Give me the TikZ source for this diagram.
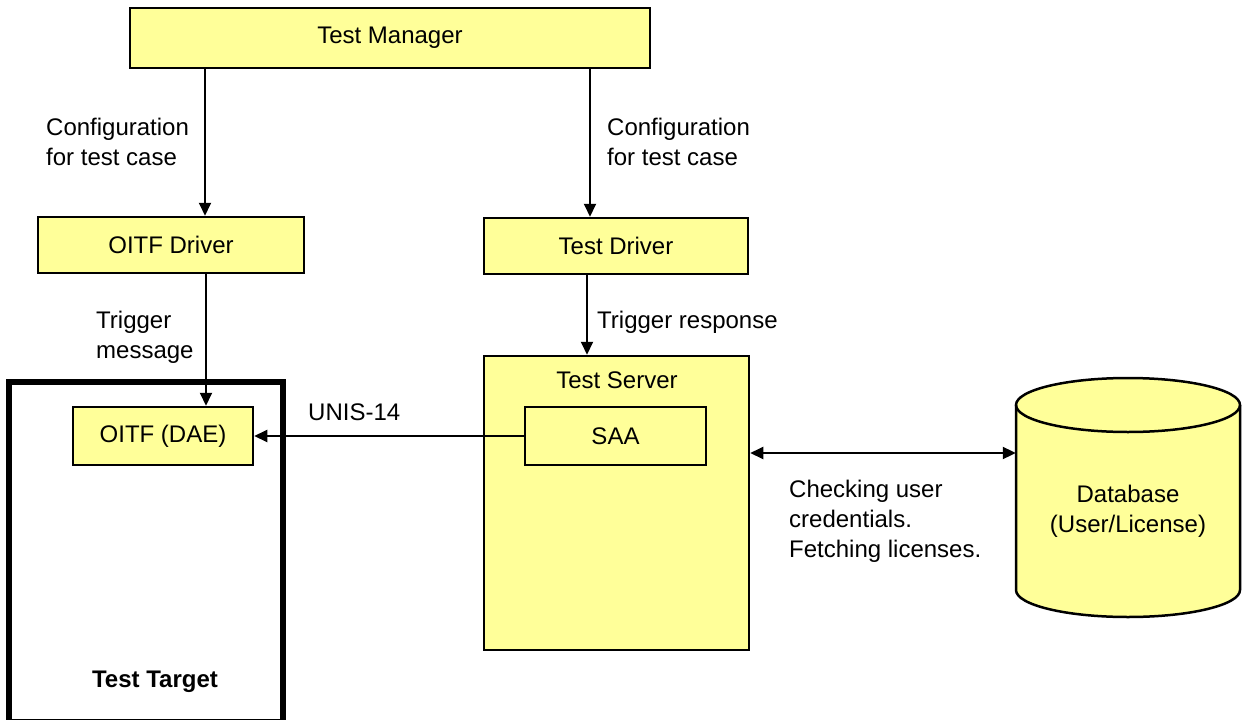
\documentclass[tikz,border=0pt]{standalone}
\usepackage{fontspec}
\setmainfont{Liberation Sans}
\usetikzlibrary{arrows.meta}
\definecolor{boxfill}{RGB}{255,255,153}
\tikzset{
  block/.style={draw=black, line width=2.5pt, fill=boxfill, inner sep=0pt},
  txt/.style={inner sep=0pt, align=left, font=\fontsize{24}{30}\selectfont},
  link/.style={line width=2pt, -{Triangle[length=13pt,width=12pt]}},
  biglink/.style={line width=2pt, {Triangle[length=13pt,width=12pt]}-{Triangle[length=13pt,width=12pt]}}
}
\begin{document}
\begin{tikzpicture}[x=1pt, y=-1pt, font=\fontsize{24}{30}\selectfont]
\useasboundingbox (0,0) rectangle (1242,720);

% boxes
\node[block, minimum width=520pt, minimum height=60pt] (mgr) at (390,38) {Test Manager};
\node[block, minimum width=266pt, minimum height=56pt] (oitfdrv) at (171,245) {OITF Driver};
\node[block, minimum width=264pt, minimum height=56pt] (testdrv) at (616,246) {Test Driver};

% test target frame (its lower edge runs off the page)
\node[draw=black, line width=6pt, minimum width=274pt, minimum height=340pt, inner sep=0pt] (target) at (146,552) {};
\node[txt, font=\fontsize{24}{30}\selectfont\bfseries] (targetlbl) at (155,682) {Test Target};
\node[block, minimum width=180pt, minimum height=58pt] (dae) at (163,436) {OITF (DAE)};

% test server with SAA
\node[block, minimum width=265pt, minimum height=294pt] (server) at (616.5,503) {};
\node[txt] (serverlbl) at (617,380) {Test Server};
\node[block, line width=2pt, minimum width=181pt, minimum height=58pt] (saa) at (615.5,436) {SAA};

% database cylinder
\fill[boxfill] (1016,405) -- (1016,590) arc[start angle=180, end angle=0, x radius=112, y radius=27]
  -- (1240,405) arc[start angle=0, end angle=-180, x radius=112, y radius=27] -- cycle;
\draw[line width=2.5pt] (1016,405) -- (1016,590) arc[start angle=180, end angle=0, x radius=112, y radius=27] -- (1240,405);
\draw[line width=2.5pt] (1128,405) ellipse[x radius=112, y radius=27];
\node[inner sep=0pt, minimum width=224pt, minimum height=240pt] (db) at (1128,497) {};
\node[txt, align=center] (dblbl) at (1128,511) {Database\\(User/License)};

% connectors
\draw[link] (mgr.south -| oitfdrv.center) ++(34,0) coordinate (cfgA) -- (cfgA |- oitfdrv.north);
\draw[link] (mgr.south -| testdrv.center) ++(-26,0) coordinate (cfgB) -- (cfgB |- testdrv.north);
\draw[link] (oitfdrv.south) ++(35,0) coordinate (trgA) -- (trgA |- dae.north);
\draw[link] (testdrv.south) ++(-29,0) coordinate (trgB) -- (trgB |- server.north);
\draw[link] (saa.west) -- (dae.east);
\coordinate (dbrow) at (0,453);
\draw[biglink] (dbrow -| server.east) -- (dbrow -| db.west);

% connector labels
\node[txt, anchor=west] (cfgAlbl) at (46,142) {Configuration\\for test case};
\node[txt, anchor=west] (cfgBlbl) at (607,142) {Configuration\\for test case};
\node[txt, anchor=west] (trgAlbl) at (96,337) {Trigger\\message};
\node[txt, anchor=west] (trgBlbl) at (597,322) {Trigger response};
\node[txt, anchor=west] (unislbl) at (308,412) {UNIS-14};
\node[txt, anchor=west] (dblinklbl) at (789,521) {Checking user\\credentials.\\Fetching licenses.};
\end{tikzpicture}
\end{document}
